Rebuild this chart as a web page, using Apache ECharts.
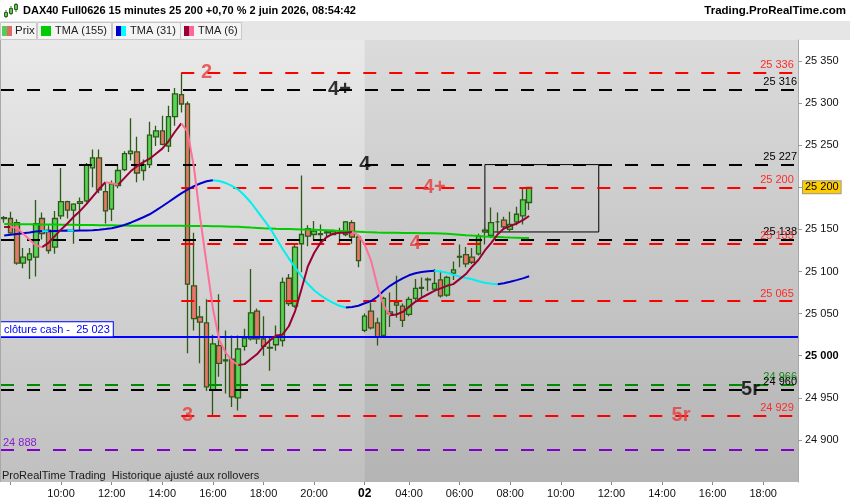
<!DOCTYPE html>
<html><head><meta charset="utf-8">
<script src="https://cdn.jsdelivr.net/npm/echarts@6/dist/echarts.min.js"></script>
<style>html,body{margin:0;padding:0;background:#fff}#c{width:850px;height:500px}</style>
</head><body><div id="c"></div>
<script>
// ---------- DATA ----------
const day1Times = ['07:45','08:00','08:15','08:30','08:45','09:00','09:15','09:30','09:45','10:00','10:15','10:30','10:45','11:00','11:15','11:30','11:45','12:00','12:15','12:30','12:45','13:00','13:15','13:30','13:45','14:00','14:15','14:30','14:45','15:00','15:15','15:30','15:45','16:00','16:15','16:30','16:45','17:00','17:15','17:30','17:45','18:00','18:15','18:30','18:45','19:00','19:15','19:30','19:45','20:00','20:15','20:30','20:45','21:00','21:15','21:30','21:45'];
const day2Times = ['02:15','02:30','02:45','03:00','03:15','03:30','03:45','04:00','04:15','04:30','04:45','05:00','05:15','05:30','05:45','06:00','06:15','06:30','06:45','07:00','07:15','07:30','07:45','08:00','08:15','08:30','08:45','09:00','09:15','09:30','09:45','10:00','10:15','10:30','10:45','11:00','11:15','11:30','11:45','12:00','12:15','12:30','12:45','13:00','13:15','13:30','13:45','14:00','14:15','14:30','14:45','15:00','15:15','15:30','15:45','16:00','16:15','16:30','16:45','17:00','17:15','17:30','17:45','18:00','18:15','18:30','18:45','19:00','19:15'];
const categories = day1Times.map(t => '1 ' + t).concat(day2Times.map(t => '2 ' + t));
const xTickLabels = ['1 10:00','1 12:00','1 14:00','1 16:00','1 18:00','1 20:00','2 02:15','2 04:00','2 06:00','2 08:00','2 10:00','2 12:00','2 14:00','2 16:00','2 18:00'];
const xTickOnly = ['1 08:00'];
const day2Label = '02';

const candleOpen  = [25163,25163,25158,25110,25114,25117,25163,25149,25129,25166,25183,25173,25181,25184,25223,25235,25195,25174,25202,25221,25240,25242,25220,25227,25260,25267,25249,25284,25310,25299,25083,25046,25039,24959,25012,24995,24996,24950,25011,25020,25053,25020,25009,25013,25018,25092,25059,25133,25151,25144,25144,25146,25144,25146,25144,25158,25141,25030,25053,25039,25024,25052,25063,25059,25049,25068,25080,25090,25079,25090,25072,25098,25117,25120,25117,25121,25147,25143,25159,25161,25150,25159,25166,25182];
const candleClose = [25164,25146,25110,25117,25121,25157,25145,25125,25163,25183,25173,25180,25183,25227,25235,25197,25172,25204,25220,25240,25243,25217,25227,25262,25267,25251,25284,25311,25299,25085,25044,25040,24963,25014,24991,24994,24951,25008,25021,25051,25020,25011,25010,25022,25087,25062,25129,25144,25142,25148,25145,25147,25148,25146,25159,25141,25113,25047,25033,25022,25068,25050,25060,25042,25067,25080,25081,25091,25086,25071,25093,25102,25118,25109,25111,25142,25149,25158,25159,25153,25156,25168,25185,25200];
const candleLow   = [25158,25145,25108,25104,25091,25094,25138,25121,25121,25162,25163,25133,25148,25182,25200,25193,25157,25160,25199,25219,25232,25206,25208,25223,25249,25250,25242,25273,25289,25003,25030,24991,24958,24929,24975,24955,24939,24935,25006,25018,25014,25000,24982,25006,25011,25059,25057,25099,25130,25138,25133,25141,25143,25133,25142,25133,25105,25028,25031,25012,25022,25034,25045,25034,25047,25066,25069,25077,25077,25069,25070,25090,25105,25105,25109,25119,25132,25140,25146,25150,25147,25155,25156,25173];
const candleHigh  = [25166,25171,25162,25128,25128,25185,25170,25155,25172,25223,25184,25181,25188,25229,25245,25245,25206,25208,25227,25243,25282,25260,25233,25278,25273,25285,25297,25318,25336,25302,25146,25059,25067,25025,25073,25030,25024,25024,25032,25103,25056,25047,25022,25036,25093,25097,25133,25214,25155,25160,25156,25149,25150,25152,25160,25161,25141,25050,25063,25045,25070,25075,25095,25062,25070,25091,25093,25093,25103,25101,25095,25112,25132,25129,25128,25145,25152,25176,25170,25165,25171,25177,25199,25200];

const tma155 = [25156.3,25156.3,25156.2,25156.2,25156.1,25156.0,25156.0,25155.9,25155.8,25155.7,25155.6,25155.5,25155.4,25155.3,25155.2,25155.1,25155.0,25154.9,25154.8,25154.6,25154.5,25154.4,25154.3,25154.3,25154.3,25154.3,25154.3,25154.3,25154.3,25154.2,25154.2,25154.1,25154.0,25153.9,25153.7,25153.5,25153.3,25153.1,25152.7,25152.2,25151.8,25151.4,25151.1,25150.8,25150.6,25150.4,25150.2,25150.0,25149.8,25149.6,25149.3,25149.0,25148.6,25148.2,25147.8,25147.5,25147.2,25146.9,25146.7,25146.4,25146.2,25146.1,25146.0,25145.9,25145.8,25145.7,25145.6,25145.5,25145.4,25145.2,25144.8,25144.3,25143.8,25143.2,25142.7,25142.3,25141.6,25141.3,25141.0,25140.6,25140.3,25140.1,25139.9,25139.8];
const tma31 = [25142.8,25143.7,25144.6,25145.4,25146.4,25147.5,25148.0,25147.8,25148.1,25148.4,25148.6,25148.4,25148.6,25148.8,25149.0,25149.7,25150.5,25151.5,25153.1,25155.3,25158.0,25161.2,25164.5,25168.0,25172.6,25177.5,25182.6,25187.8,25192.8,25197.4,25201.4,25204.6,25207.2,25208.5,25207.5,25205.2,25201.8,25197.4,25190.3,25182.0,25172.0,25161.9,25151.9,25139.4,25127.0,25115.7,25105.0,25094.4,25085.4,25077.7,25071.8,25067.0,25062.9,25059.3,25057.3,25057.8,25059.3,25062.3,25064.9,25070.0,25077.1,25083.0,25087.8,25091.9,25095.5,25097.9,25099.4,25100.4,25100.8,25100.1,25098.5,25096.1,25093.9,25092.3,25090.8,25088.4,25086.6,25085.4,25084.9,25086.0,25087.8,25089.8,25091.9,25094.3];
const tma6 = [25153,25153,25152,25145,25138,25131,25129,25134,25142,25150,25157,25165,25172,25180,25189,25198,25206,25205,25203,25211,25219,25225,25230,25234,25240,25246,25255,25266,25276,25266,25224,25163,25109,25056,25019,25004,24994,24989,24990,24996,25002,25011,25018,25024,25025,25035,25053,25079,25106,25122,25134,25141,25145,25146,25146,25147,25143,25132,25113,25083,25059,25048,25049,25052,25058,25064,25069,25073,25077,25080,25083,25085,25091,25097,25106,25114,25125,25134,25144,25151,25154,25157,25161,25166];

const levelPrices = [25336,25316,25227,25200,25138,25133,25065,25023,24966,24960,24929,24888];
const levelKinds  = ['pivot','black','black','pivot','black','pivot','pivot','cash','green','black','pivot','purple'];
const cashLabel = 'clôture cash -  ';
const lastPrice = 25200;
const pivotStartIndex = 28;
const day2StartIndex = 57;
const boxCorners = [[76, 25227], [94, 25147]];

const annotTexts  = ['2','4+','4','4+','4','3','5r','5r'];
const annotIndex  = [32,53,57,68,65,29,107,118];
const annotPrices = [25336,25316,25227,25200,25133,24929,24929,24960];
const annotKinds  = ['red','black','black','red','red','red','red','black'];

// ---------- STYLES ----------
const FONT = 'Liberation Sans, Arial, sans-serif';
const kindStyle = {
  pivot:  {line:'#ff0000', text:'#ff2a2a', type:[13,13], width:2, side:'right', partial:true},
  black:  {line:'#000000', text:'#000000', type:[13,13], width:2, side:'right'},
  green:  {line:'#008c00', text:'#128a12', type:[13,13], width:2, side:'right'},
  purple: {line:'#8200c8', text:'#8a20d0', type:[13,13], width:2, side:'left'},
  cash:   {line:'#0000ff', text:'#0000ff', type:'solid', width:2, side:'cash'}
};
const annotColor = {red:'#e83c3c', black:'#000000'};

function fmt(v){ const s = String(Math.round(v)); return s.slice(0,-3) + ' ' + s.slice(-3); }

function splitDir(vals){
  const up = [], dn = [];
  for (let i = 0; i < vals.length; i++) {
    const rIn = i > 0 && vals[i] >= vals[i-1];
    const rOut = i < vals.length-1 && vals[i+1] >= vals[i];
    const fIn = i > 0 && vals[i] < vals[i-1];
    const fOut = i < vals.length-1 && vals[i+1] < vals[i];
    up.push(rIn || rOut ? vals[i] : null);
    dn.push(fIn || fOut ? vals[i] : null);
  }
  return [up, dn];
}

const candleData = candleOpen.map((o,i) => [o, candleClose[i], candleLow[i], candleHigh[i]]);
const [tma31Up, tma31Dn] = splitDir(tma31);
const [tma6Up, tma6Dn] = splitDir(tma6);
const lastCat = categories.length - 1;

const markLineData = levelPrices.map((p,k) => {
  const st = kindStyle[levelKinds[k]];
  const lineStyle = {color: st.line, type: st.type, width: st.width};
  let label;
  if (st.side === 'right') {
    label = {show:true, position:'insideEndTop', distance:[1,2], formatter: fmt(p), color: st.text, fontSize: 11, fontFamily: FONT};
  } else if (st.side === 'left') {
    label = {show:true, position:'insideStartTop', distance:[2,2], formatter: fmt(p), color: st.text, fontSize: 11, fontFamily: FONT};
  } else {
    label = {show:true, position:'insideStartTop', distance:[0,0], formatter: cashLabel + fmt(p), color: st.text, fontSize: 11, fontFamily: FONT,
             backgroundColor:'#ffffff', borderColor:'#0000ff', borderWidth:1, padding:[2,3,1,3]};
  }
  if (st.partial) {
    return [{xAxis: pivotStartIndex, yAxis: p, lineStyle, label}, {xAxis: lastCat, yAxis: p}];
  }
  return {yAxis: p, lineStyle, label};
});
markLineData.push({yAxis: lastPrice, lineStyle:{width:0, color:'rgba(0,0,0,0)'},
  label:{show:true, position:'end', distance:5, formatter: fmt(lastPrice), color:'#000', fontSize:11, fontFamily:FONT,
         backgroundColor:'#ffcc00', borderColor:'#9a9a9a', borderWidth:1, padding:[1,2,0,2]}});

const labelSet = new Set(xTickLabels);
const tickSet = new Set(xTickLabels.concat(xTickOnly));

const chart = echarts.init(document.getElementById('c'), null, {renderer:'canvas'});
chart.setOption({
  animation: false,
  title: [
    {text:'DAX40 Full0626 15 minutes 25 200 +0,70 % 2 juin 2026, 08:54:42', left:23, top:5, padding:0,
     textStyle:{fontSize:11, fontWeight:'bold', color:'#000', fontFamily:FONT}},
    {text:'Trading.ProRealTime.com', right:4, top:5, padding:0,
     textStyle:{fontSize:11.5, fontWeight:'bold', color:'#000', fontFamily:FONT}}
  ],
  graphic: [
    {type:'rect', z:-10, shape:{x:0,y:0,width:850,height:21}, style:{fill:'#ffffff'}},
    {type:'rect', z:-10, shape:{x:0,y:21,width:850,height:19}, style:{fill:'#e6e6e6'}},
    {type:'rect', z:-9, shape:{x:0.5,y:22.5,width:36,height:17}, style:{fill:'#f4f4f4', stroke:'#c8c8c8'}},
    {type:'rect', z:-9, shape:{x:37.5,y:22.5,width:74,height:17}, style:{fill:'#f4f4f4', stroke:'#c8c8c8'}},
    {type:'rect', z:-9, shape:{x:112.5,y:22.5,width:68,height:17}, style:{fill:'#f4f4f4', stroke:'#c8c8c8'}},
    {type:'rect', z:-9, shape:{x:180.5,y:22.5,width:61,height:17}, style:{fill:'#f4f4f4', stroke:'#c8c8c8'}},
    {type:'rect', shape:{x:2,y:26,width:5,height:10}, style:{fill:'#55cc55'}},
    {type:'rect', shape:{x:7,y:26,width:5,height:10}, style:{fill:'#e06a64'}},
    {type:'text', style:{x:15,y:31,text:'Prix',fill:'#222',font:'11.5px '+FONT,textVerticalAlign:'middle'}},
    {type:'rect', shape:{x:41,y:26,width:10,height:10}, style:{fill:'#00cc00'}},
    {type:'text', style:{x:55,y:31,text:'TMA (155)',fill:'#222',font:'11px '+FONT,textVerticalAlign:'middle'}},
    {type:'rect', shape:{x:116,y:26,width:5,height:10}, style:{fill:'#0000cc'}},
    {type:'rect', shape:{x:121,y:26,width:5,height:10}, style:{fill:'#00ffff'}},
    {type:'text', style:{x:130,y:31,text:'TMA (31)',fill:'#222',font:'11px '+FONT,textVerticalAlign:'middle'}},
    {type:'rect', shape:{x:184,y:26,width:5,height:10}, style:{fill:'#990033'}},
    {type:'rect', shape:{x:189,y:26,width:5,height:10}, style:{fill:'#ff6699'}},
    {type:'text', style:{x:198,y:31,text:'TMA (6)',fill:'#222',font:'11px '+FONT,textVerticalAlign:'middle'}},
    {type:'line', shape:{x1:6,y1:10,x2:6,y2:18}, style:{stroke:'#2f5f1a', lineWidth:1}},
    {type:'rect', shape:{x:4.5,y:12.5,width:3,height:4}, style:{fill:'#55cc55', stroke:'#2f5f1a'}},
    {type:'line', shape:{x1:11,y1:6,x2:11,y2:15}, style:{stroke:'#2f5f1a', lineWidth:1}},
    {type:'rect', shape:{x:9.5,y:8.5,width:3,height:5}, style:{fill:'#55cc55', stroke:'#2f5f1a'}},
    {type:'line', shape:{x1:16,y1:3,x2:16,y2:12}, style:{stroke:'#2f5f1a', lineWidth:1}},
    {type:'rect', shape:{x:14.5,y:4.5,width:3,height:5}, style:{fill:'#55cc55', stroke:'#2f5f1a'}},
    {type:'line', z:100, shape:{x1:0.5,y1:40,x2:0.5,y2:482}, style:{stroke:'#a8a8a8', lineWidth:1}},
    {type:'text', z:100, style:{x:2,y:470,text:'ProRealTime Trading  Historique ajusté aux rollovers',fill:'#1a1a1a',font:'11px '+FONT}}
  ],
  grid: {left:1, right:52, top:40, bottom:18, show:true, borderWidth:0,
    backgroundColor: new echarts.graphic.LinearGradient(0,0,0,1,[{offset:0,color:'#e9e9e9'},{offset:1,color:'#c0c0c0'}])},
  xAxis: {
    type:'category', data: categories, boundaryGap:true,
    axisLine:{show:false},
    axisTick:{show:true, alignWithLabel:true, length:3, interval:(i,v)=>tickSet.has(v), lineStyle:{color:'#888'}},
    axisLabel:{interval:(i,v)=>labelSet.has(v), margin:6, color:'#111', fontSize:11, fontFamily:FONT,
      formatter: v => v === '2 ' + day2Times[0] ? '{d|' + day2Label + '}' : v.slice(2),
      rich:{d:{fontWeight:'bold', fontSize:12, color:'#000', fontFamily:FONT}}},
    splitLine:{show:false}
  },
  yAxis: {
    type:'value', position:'right', min:24850, max:25375, interval:50, scale:true,
    axisLine:{show:true, lineStyle:{color:'#a8a8a8'}},
    axisTick:{show:true, length:4, lineStyle:{color:'#999'}},
    splitLine:{show:false},
    axisLabel:{showMinLabel:false, showMaxLabel:false, margin:7, color:'#111', fontSize:11, fontFamily:FONT,
      formatter: v => v === lastPrice ? '' : (v === 25000 ? '{b|' + fmt(v) + '}' : fmt(v)),
      rich:{b:{fontWeight:'bold', fontSize:11, color:'#000', fontFamily:FONT}}}
  },
  series: [
    {type:'line', name:'TMA (155)', data: tma155, showSymbol:false, z:4, silent:true,
     lineStyle:{color:'#00cc00', width:2},
     markArea:{silent:true, label:{show:false}, data:[
       [{xAxis: day2StartIndex, itemStyle:{color: new echarts.graphic.LinearGradient(0,0,0,1,[{offset:0,color:'#dbdbdb'},{offset:1,color:'#b4b4b4'}])}}, {xAxis: Infinity}],
       [{xAxis: boxCorners[0][0], yAxis: boxCorners[0][1], itemStyle:{color:'rgba(0,0,0,0)', borderColor:'#000', borderWidth:1}},
        {xAxis: boxCorners[1][0], yAxis: boxCorners[1][1]}]
     ]}},
    {type:'candlestick', name:'Prix', data: candleData, barWidth:5, z:3, silent:true,
     itemStyle:{color:'#58d458', color0:'#e8766c', borderColor:'#2c5a16', borderColor0:'#2c5a16', borderWidth:1.3},
     markLine:{symbol:['none','none'], silent:true, animation:false, data: markLineData}},
    {type:'line', name:'TMA (31) up', data: tma31Up, showSymbol:false, z:5, silent:true, connectNulls:false, lineStyle:{color:'#0000cc', width:2}},
    {type:'line', name:'TMA (31) down', data: tma31Dn, showSymbol:false, z:5, silent:true, connectNulls:false, lineStyle:{color:'#00f0f0', width:2}},
    {type:'line', name:'TMA (6) up', data: tma6Up, showSymbol:false, z:5, silent:true, connectNulls:false, lineStyle:{color:'#990033', width:2}},
    {type:'line', name:'TMA (6) down', data: tma6Dn, showSymbol:false, z:5, silent:true, connectNulls:false, lineStyle:{color:'#ff6f9a', width:2}},
    {type:'scatter', name:'annotations', symbolSize:0, z:8, silent:true,
     data: annotTexts.map((t,k) => ({name:t, value:[annotIndex[k], annotPrices[k]], label:{color: annotColor[annotKinds[k]]}})),
     label:{show:true, position:'inside', formatter:'{b}', fontSize:20, fontWeight:'bold', fontFamily:FONT}}
  ]
});
</script></body></html>
